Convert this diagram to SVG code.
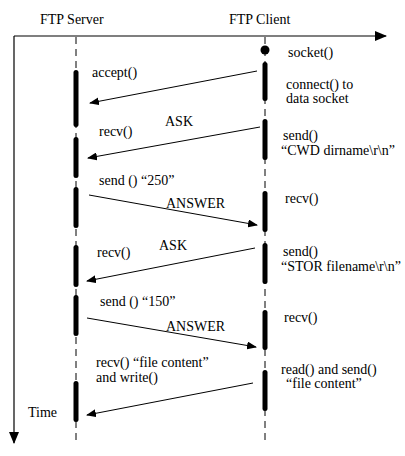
<svg xmlns="http://www.w3.org/2000/svg" width="405" height="456" viewBox="0 0 405 456">
<defs>
<marker id="ah" markerWidth="10" markerHeight="8" refX="9" refY="4" orient="auto" markerUnits="userSpaceOnUse">
<path d="M0,0 L10,4 L0,8 Z" fill="#000"/>
</marker>
<marker id="axh" markerWidth="12" markerHeight="10" refX="11" refY="5" orient="auto" markerUnits="userSpaceOnUse">
<path d="M0,0 L12,5 L0,10 Z" fill="#000"/>
</marker>
</defs>
<style>
text{font-family:"Liberation Serif","Times New Roman",serif;font-size:14px;fill:#000}
.life{stroke:#000;stroke-width:1;stroke-dasharray:7,5;fill:none}
.bar{fill:#000}
.msg{stroke:#000;stroke-width:1;fill:none;marker-end:url(#ah)}
.axis{stroke:#000;stroke-width:1.2;fill:none;marker-end:url(#axh)}
</style>
<rect width="405" height="456" fill="#fff"/>
<g id="axes">
<line class="axis" x1="14" y1="36" x2="386" y2="36"/>
<line class="axis" x1="14" y1="36" x2="14" y2="443"/>
<text x="28" y="417">Time</text>
</g>
<g id="server">
<text x="40" y="24">FTP Server</text>
<line class="life" x1="76" y1="37" x2="76" y2="440"/>
<rect class="bar" x="73.5" y="70" width="5" height="57" rx="2.5"/>
<rect class="bar" x="73.5" y="137" width="5" height="41" rx="2.5"/>
<rect class="bar" x="73.5" y="187" width="5" height="41" rx="2.5"/>
<rect class="bar" x="73.5" y="245" width="5" height="42" rx="2.5"/>
<rect class="bar" x="73.5" y="295" width="5" height="41" rx="2.5"/>
<rect class="bar" x="73.5" y="381" width="5" height="41" rx="2.5"/>
<text x="92" y="77">accept()</text>
<text x="99" y="136">recv()</text>
<text x="99" y="185">send () “250”</text>
<text x="97" y="257">recv()</text>
<text x="100" y="306">send () “150”</text>
<text x="96" y="367">recv() “file content”</text>
<text x="96" y="382">and write()</text>
</g>
<g id="client">
<text x="229" y="24">FTP Client</text>
<line class="life" x1="265" y1="37" x2="265" y2="440"/>
<circle cx="265" cy="50" r="4.5" fill="#000"/>
<rect class="bar" x="262.5" y="62" width="5" height="39" rx="2.5"/>
<rect class="bar" x="262.5" y="119" width="5" height="41" rx="2.5"/>
<rect class="bar" x="262.5" y="191" width="5" height="41" rx="2.5"/>
<rect class="bar" x="262.5" y="243" width="5" height="41" rx="2.5"/>
<rect class="bar" x="262.5" y="310" width="5" height="40" rx="2.5"/>
<rect class="bar" x="262.5" y="370" width="5" height="41" rx="2.5"/>
<text x="288" y="57">socket()</text>
<text x="286" y="89">connect() to</text>
<text x="286" y="103">data socket</text>
<text x="283" y="140">send()</text>
<text x="281" y="155">“CWD dirname\r\n”</text>
<text x="285" y="203">recv()</text>
<text x="283" y="256">send()</text>
<text x="281" y="271">“STOR filename\r\n”</text>
<text x="284" y="322">recv()</text>
<text x="281" y="374">read() and send()</text>
<text x="286" y="388">“file content”</text>
</g>
<g id="connectors">
<line class="msg" x1="257" y1="71" x2="90" y2="103"/>
<line class="msg" x1="260" y1="127" x2="88" y2="158"/>
<line class="msg" x1="89" y1="195" x2="257" y2="225"/>
<line class="msg" x1="255" y1="248" x2="87" y2="281"/>
<line class="msg" x1="87" y1="318" x2="256" y2="347"/>
<line class="msg" x1="253" y1="383" x2="87" y2="415"/>
<text x="165" y="126">ASK</text>
<text x="166" y="208">ANSWER</text>
<text x="159" y="250">ASK</text>
<text x="166" y="331">ANSWER</text>
</g>
</svg>
